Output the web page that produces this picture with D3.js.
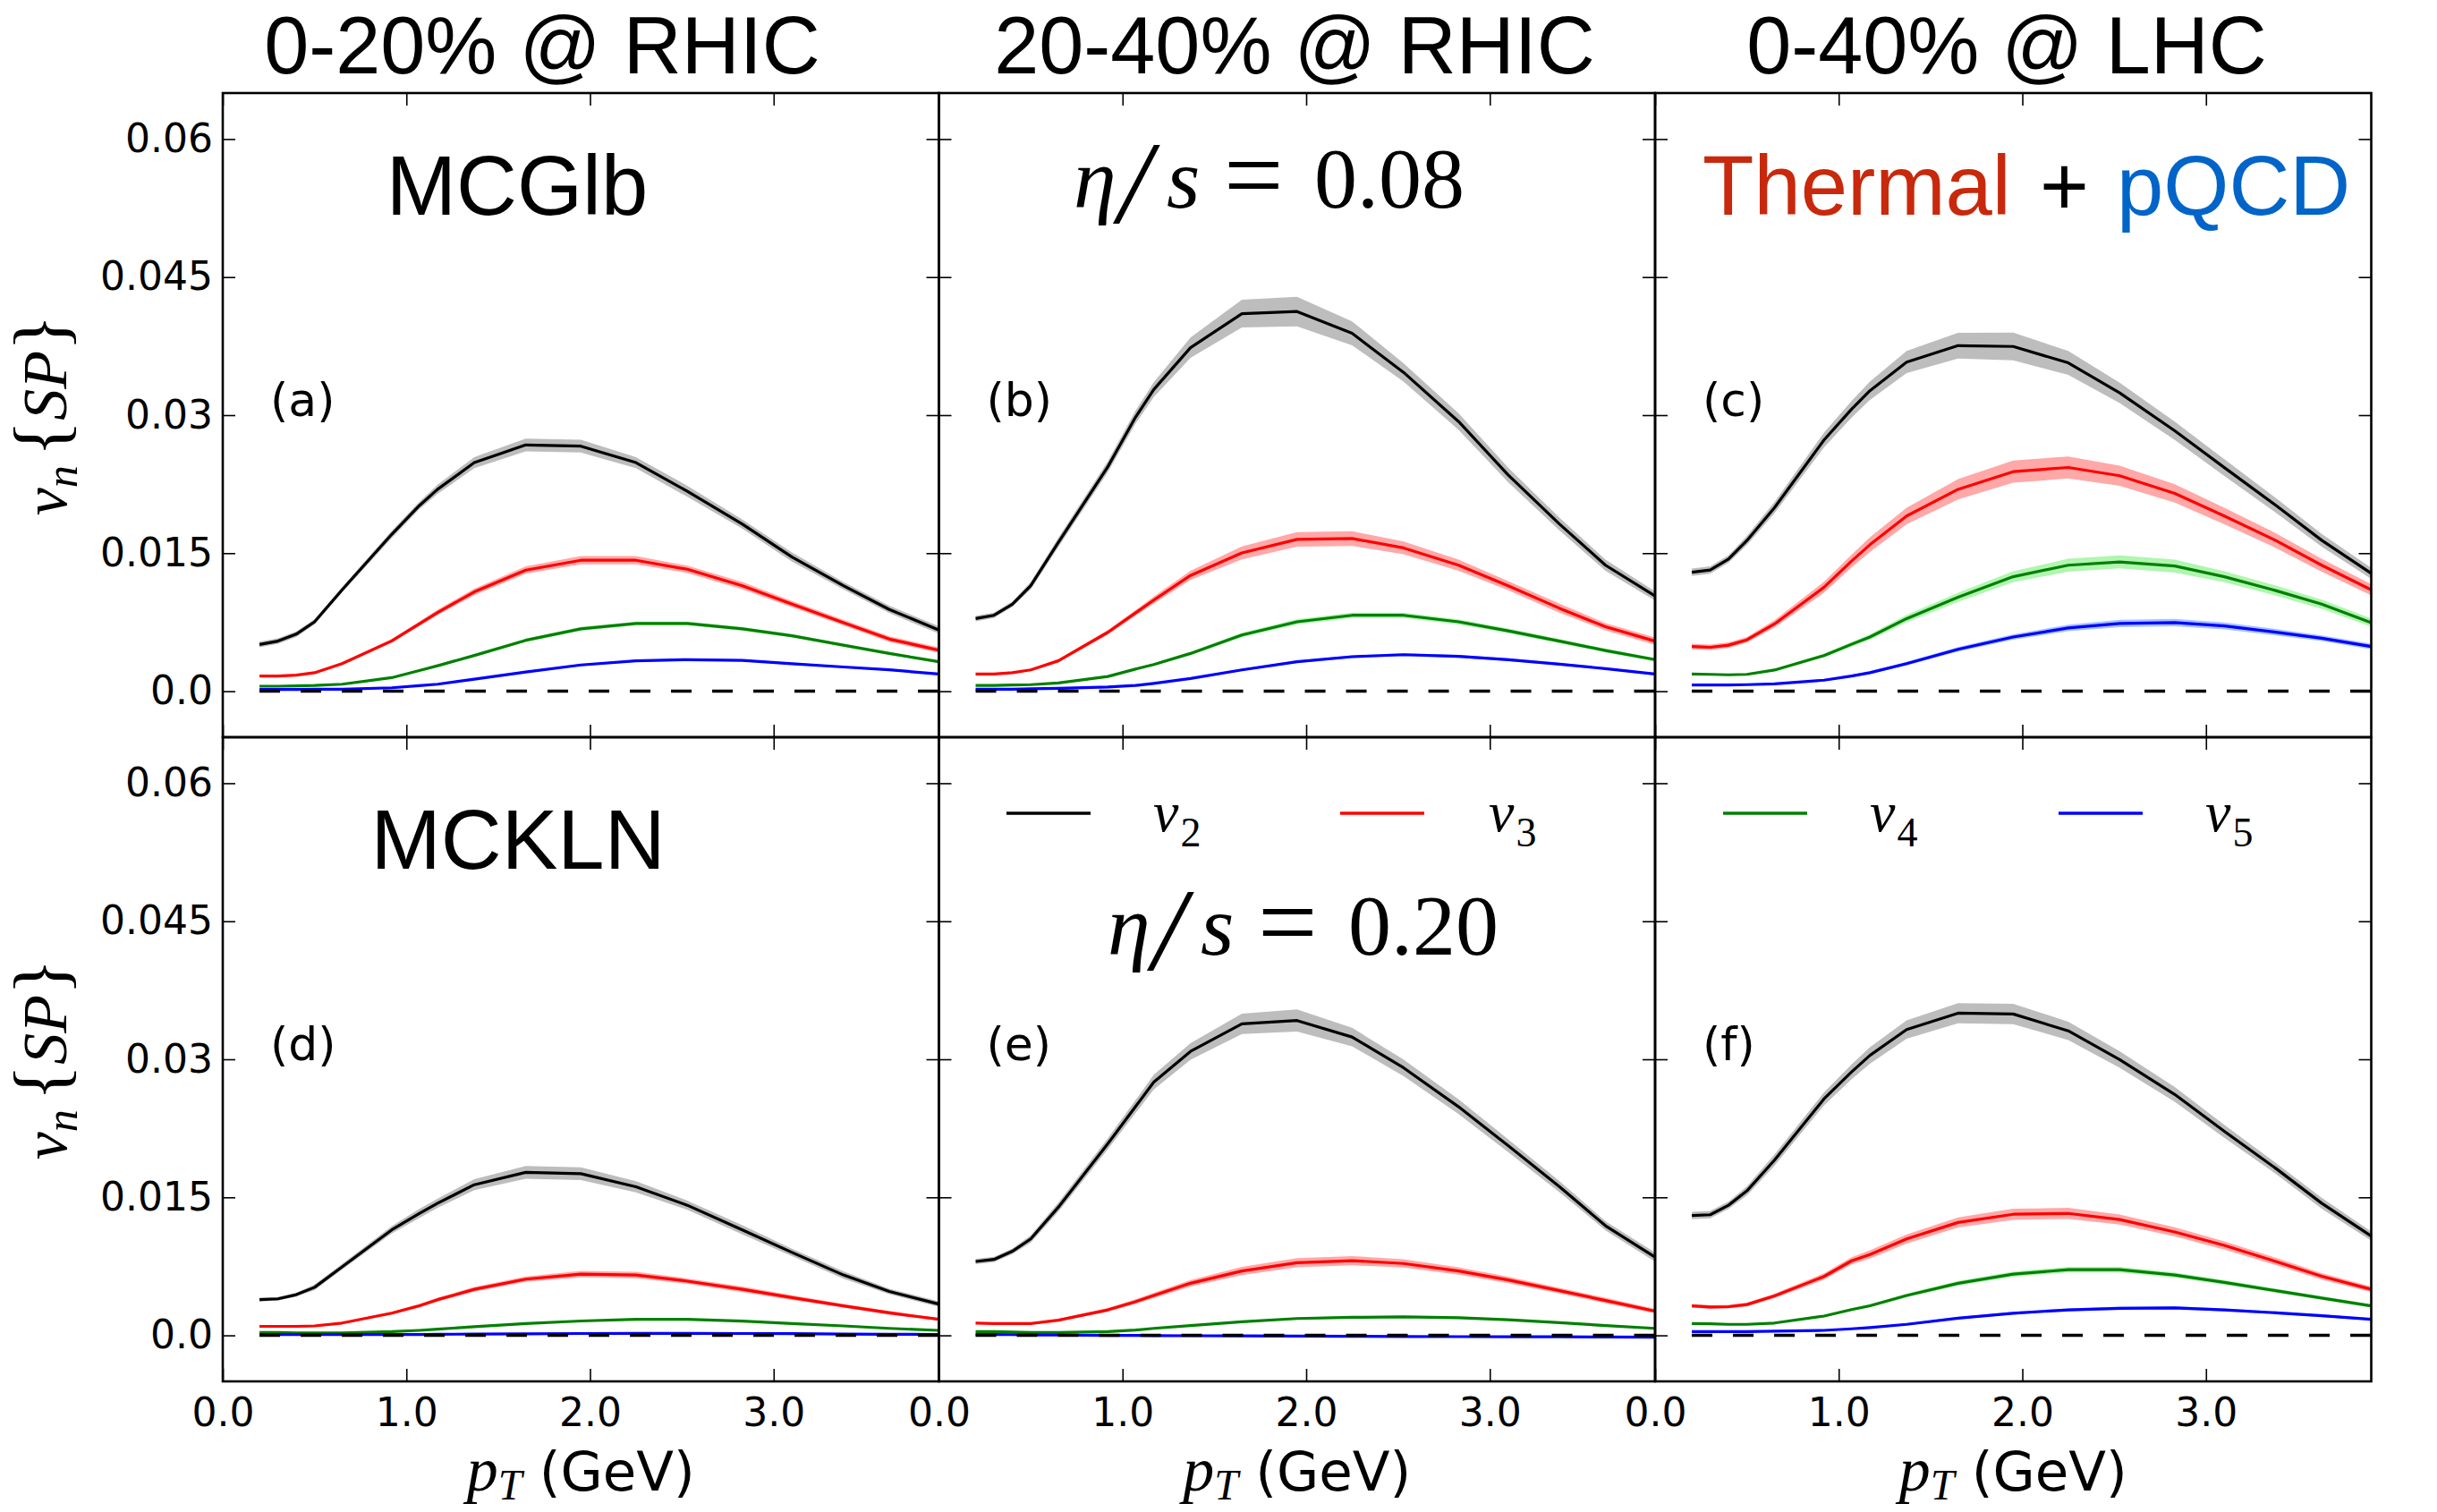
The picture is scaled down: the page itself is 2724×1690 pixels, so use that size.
<!DOCTYPE html>
<html>
<head>
<meta charset="utf-8">
<script src="https://cdn.jsdelivr.net/npm/d3@7"></script>
<style>
  html, body { margin: 0; padding: 0; background: #fff; }
  svg { display: block; }
</style>
</head>
<body>
<svg id="chart" width="2724" height="1690"></svg>
<script>
// Transverse momentum grid (GeV)
const pT = [0.2, 0.3, 0.4, 0.5, 0.65, 0.92, 1.07, 1.17, 1.37, 1.65, 1.95, 2.25, 2.53, 2.83, 3.1, 3.38, 3.63, 3.9];

// Column titles, tick values and tick labels
const columnTitles = ["0-20% @ RHIC", "20-40% @ RHIC", "0-40% @ LHC"];
const panelLabels = ["(a)", "(b)", "(c)", "(d)", "(e)", "(f)"];
const yTicks = [0.0, 0.015, 0.03, 0.045, 0.06];
const yTickLabels = ["0.0", "0.015", "0.03", "0.045", "0.06"];
const xTicks = [0, 1, 2, 3];
const xTickLabels = ["0.0", "1.0", "2.0", "3.0"];
const harmonics = ["2", "3", "4", "5"];

// (a) MCGlb, eta/s = 0.08, 0-20% RHIC
const v2a = [0.00508,0.00544,0.0062,0.00754,0.01102,0.01704,0.02016,0.02194,0.02484,0.02676,0.02663,0.02484,0.02172,0.01815,0.01458,0.01146,0.00888,0.00665];
const v3a = [0.00165,0.00165,0.00174,0.00201,0.00300,0.00546,0.00732,0.00856,0.01079,0.01316,0.01423,0.01423,0.01325,0.01146,0.00946,0.00745,0.00566,0.00446];
const v4a = [0.00054,0.00054,0.00058,0.00062,0.00076,0.00147,0.00225,0.00277,0.00388,0.00553,0.00678,0.00736,0.00736,0.00678,0.00602,0.0050,0.0041,0.00321];
const v5a = [0.00018,0.00018,0.00018,0.00022,0.00022,0.00037,0.0006,0.00076,0.0013,0.00209,0.00285,0.0033,0.00343,0.00335,0.00299,0.00263,0.00232,0.00187];
const e2a = [0.0003,0.0003,0.0003,0.0003,0.0003,0.0004,0.0004,0.0005,0.0006,0.0007,0.0007,0.0006,0.0006,0.0005,0.0005,0.0004,0.0004,0.0004];
const e3a = [0.0001,0.0001,0.0001,0.0001,0.00015,0.0002,0.00025,0.0003,0.00035,0.0004,0.00045,0.00045,0.0004,0.0004,0.00035,0.0003,0.0003,0.0003];
const e4a = [0.00005,0.00005,0.00005,0.00005,0.00006,0.00008,0.0001,0.00012,0.00015,0.00018,0.0002,0.0002,0.0002,0.0002,0.00018,0.00016,0.00015,0.00014];
const e5a = [0.00004,0.00004,0.00004,0.00004,0.00004,0.00005,0.00006,0.00007,0.00008,0.0001,0.00011,0.00012,0.00012,0.00012,0.00011,0.0001,0.0001,0.0001];

// (b) MCGlb, eta/s = 0.08, 20-40% RHIC
const v2b = [0.00789,0.00825,0.00946,0.01146,0.01615,0.0244,0.02975,0.03278,0.03733,0.04103,0.04126,0.03889,0.03465,0.0293,0.0235,0.01815,0.01369,0.01035];
const v3b = [0.00187,0.00187,0.00201,0.00232,0.0033,0.0064,0.0085,0.0099,0.01258,0.01503,0.0165,0.01659,0.01557,0.01369,0.01146,0.00901,0.007,0.00544];
const v4b = [0.00062,0.00062,0.00067,0.00071,0.00089,0.0016,0.0024,0.0029,0.0041,0.00611,0.00754,0.00825,0.00825,0.00754,0.00656,0.00544,0.00442,0.00343];
const v5b = [0.00022,0.00022,0.00022,0.00027,0.00031,0.00045,0.00062,0.00085,0.00138,0.00232,0.00321,0.00375,0.00397,0.00379,0.00343,0.00294,0.00245,0.00187];
const e2b = [0.0003,0.0003,0.0003,0.0004,0.0005,0.0006,0.0007,0.0008,0.0011,0.0015,0.0016,0.0013,0.001,0.0009,0.0008,0.0007,0.0006,0.0005];
const e3b = [0.0001,0.0001,0.0001,0.0001,0.00015,0.00025,0.0003,0.0004,0.0005,0.0007,0.0008,0.0008,0.0007,0.0006,0.0005,0.0005,0.0004,0.0004];
const e4b = [0.00005,0.00005,0.00005,0.00005,0.00006,0.00008,0.0001,0.00013,0.00018,0.00024,0.0003,0.0003,0.0003,0.00028,0.00025,0.00022,0.0002,0.00018];
const e5b = [0.00004,0.00004,0.00004,0.00004,0.00004,0.00005,0.00006,0.00007,0.00009,0.00011,0.00013,0.00015,0.00015,0.00015,0.00014,0.00013,0.00012,0.00011];

// (c) MCGlb, eta/s = 0.08, 0-40% LHC, thermal + pQCD
const v2c = [0.01293,0.01316,0.01436,0.01637,0.01994,0.0273,0.03064,0.03265,0.03577,0.03755,0.03746,0.03568,0.03242,0.0283,0.0243,0.0202,0.0164,0.0128];
const v3c = [0.00486,0.00477,0.005,0.00558,0.0073,0.0113,0.01414,0.01592,0.01904,0.02194,0.02386,0.02431,0.02341,0.0215,0.01904,0.01637,0.01369,0.01102];
const v4c = [0.00187,0.00183,0.00178,0.00183,0.0023,0.00388,0.0051,0.00589,0.00789,0.01021,0.01244,0.01369,0.01405,0.0136,0.01244,0.01093,0.00946,0.00745];
const v5c = [0.00067,0.00067,0.00067,0.00071,0.0008,0.0012,0.00165,0.00201,0.00299,0.00455,0.00589,0.00687,0.00736,0.00745,0.00709,0.00642,0.00575,0.00486];
const e2c = [0.0004,0.0004,0.0004,0.0005,0.0006,0.0008,0.0009,0.001,0.0012,0.0014,0.0015,0.0013,0.0011,0.001,0.0009,0.0008,0.0007,0.0006];
const e3c = [0.0003,0.0003,0.0003,0.0003,0.0004,0.0006,0.0007,0.0008,0.0009,0.0011,0.0012,0.0012,0.0011,0.001,0.0009,0.0008,0.0007,0.0006];
const e4c = [0.0001,0.0001,0.0001,0.0001,0.00013,0.0002,0.00025,0.0003,0.0004,0.0005,0.0006,0.0007,0.0007,0.0007,0.0006,0.00055,0.0005,0.00045];
const e5c = [0.00005,0.00005,0.00005,0.00005,0.00006,0.0001,0.00012,0.00015,0.0002,0.00025,0.0003,0.00035,0.0004,0.0004,0.00038,0.00035,0.0003,0.0003];

// (d) MCKLN, eta/s = 0.20, 0-20% RHIC
const v2d = [0.00388,0.00397,0.00442,0.00522,0.00745,0.01146,0.01325,0.01436,0.01637,0.01771,0.01757,0.01615,0.01414,0.01146,0.00901,0.00656,0.00477,0.0034];
const v3d = [0.00098,0.00098,0.00098,0.00103,0.00134,0.00241,0.00321,0.00388,0.005,0.00611,0.00665,0.00656,0.00589,0.005,0.0041,0.00321,0.00245,0.00174];
const v4d = [0.00031,0.00031,0.00027,0.00027,0.00027,0.0004,0.00054,0.00067,0.00094,0.00129,0.00156,0.00174,0.00174,0.00156,0.00129,0.00103,0.00076,0.00054];
const v5d = [0.0001,0.0001,0.0001,0.0001,0.0001,0.0001,0.0001,0.00012,0.00014,0.00017,0.0002,0.00022,0.00022,0.0002,0.00018,0.00015,0.00012,0.0001];
const e2d = [0.0002,0.0002,0.0002,0.0003,0.0003,0.0004,0.0005,0.0005,0.0006,0.0007,0.0007,0.0006,0.0005,0.0005,0.0004,0.0004,0.0003,0.0003];
const e3d = [0.0001,0.0001,0.0001,0.0001,0.0001,0.00015,0.0002,0.0002,0.00025,0.0003,0.00035,0.00035,0.0003,0.0003,0.00025,0.0002,0.0002,0.00015];
const e4d = [0.00004,0.00004,0.00004,0.00004,0.00004,0.00004,0.00005,0.00005,0.00006,0.00007,0.00008,0.00008,0.00008,0.00008,0.00007,0.00006,0.00006,0.00005];
const e5d = [0.00003,0.00003,0.00003,0.00003,0.00003,0.00003,0.00003,0.00003,0.00003,0.00003,0.00003,0.00003,0.00003,0.00003,0.00003,0.00003,0.00003,0.00003];

// (e) MCKLN, eta/s = 0.20, 20-40% RHIC
const v2e = [0.00803,0.00825,0.00914,0.01048,0.01392,0.02083,0.02484,0.02752,0.03086,0.03385,0.03421,0.03242,0.02908,0.02484,0.02061,0.01615,0.01191,0.0085];
const v3e = [0.00134,0.00129,0.00129,0.00129,0.00165,0.00277,0.00366,0.00433,0.00566,0.007,0.00789,0.00812,0.00781,0.007,0.00602,0.00486,0.00379,0.00263];
const v4e = [0.0004,0.0004,0.00036,0.00031,0.00031,0.0004,0.00058,0.00076,0.00107,0.00147,0.00183,0.00196,0.00201,0.00192,0.00169,0.00138,0.00107,0.00076];
const v5e = [0.0001,0.0001,0.00008,0.00005,0.00003,0.0,0.0,-0.00002,-0.00004,-0.00006,-0.00008,-0.0001,-0.00012,-0.00014,-0.00015,-0.00016,-0.00018,-0.0002];
const e2e = [0.0003,0.0003,0.0003,0.0004,0.0005,0.0006,0.0007,0.0008,0.0009,0.0011,0.0012,0.001,0.0009,0.0008,0.0007,0.0006,0.0005,0.0005];
const e3e = [0.0001,0.0001,0.0001,0.0001,0.00012,0.0002,0.00025,0.0003,0.00035,0.00045,0.0005,0.0005,0.00045,0.0004,0.00035,0.0003,0.0003,0.00025];
const e4e = [0.00004,0.00004,0.00004,0.00004,0.00004,0.00005,0.00006,0.00007,0.00008,0.0001,0.00011,0.00012,0.00012,0.00012,0.00011,0.0001,0.00009,0.00008];
const e5e = [0.00003,0.00003,0.00003,0.00003,0.00003,0.00003,0.00003,0.00003,0.00003,0.00003,0.00003,0.00003,0.00003,0.00003,0.00003,0.00003,0.00003,0.00003];

// (f) MCKLN, eta/s = 0.20, 0-40% LHC, thermal + pQCD
const v2f = [0.01302,0.01311,0.01414,0.0157,0.01904,0.0257,0.02863,0.03042,0.03323,0.03501,0.03492,0.03309,0.02997,0.02618,0.02217,0.01815,0.01436,0.01079];
const v3f = [0.00321,0.00308,0.00312,0.00335,0.00428,0.0064,0.0081,0.00879,0.01048,0.01227,0.01316,0.01325,0.01258,0.01124,0.00977,0.00803,0.00642,0.005];
const v4f = [0.00129,0.00125,0.0012,0.0012,0.00134,0.0021,0.0028,0.00321,0.00433,0.00566,0.00665,0.00714,0.00714,0.00656,0.00575,0.00486,0.00406,0.00321];
const v5f = [0.0004,0.0004,0.0004,0.0004,0.00045,0.00054,0.00071,0.00085,0.0012,0.00187,0.00241,0.00277,0.00294,0.00299,0.00277,0.00245,0.00214,0.00174];
const e2f = [0.0004,0.0004,0.0004,0.0005,0.0006,0.0007,0.0008,0.0009,0.001,0.0011,0.0011,0.001,0.0009,0.0008,0.0007,0.0006,0.0006,0.0005];
const e3f = [0.0002,0.0002,0.0002,0.0002,0.00025,0.00035,0.0004,0.00045,0.0005,0.00055,0.0006,0.0006,0.00055,0.0005,0.00045,0.0004,0.00035,0.0003];
const e4f = [0.0001,0.0001,0.0001,0.0001,0.0001,0.00012,0.00015,0.00017,0.0002,0.00025,0.00028,0.0003,0.0003,0.00028,0.00025,0.00022,0.0002,0.00018];
const e5f = [0.00005,0.00005,0.00005,0.00005,0.00005,0.00006,0.00007,0.00008,0.0001,0.00012,0.00014,0.00016,0.00017,0.00017,0.00016,0.00015,0.00014,0.00012];

// ---- layout & style ----
const svg = d3.select("#chart");
svg.append("rect").attr("width", 2724).attr("height", 1690).attr("fill", "#fff");

const left0 = 249, top0 = 104, pw = 800.5, ph = 720;
const x = d3.scaleLinear().domain([0, 3.9]).range([0, pw]);
const y = d3.scaleLinear().domain([-0.005, 0.065]).range([ph, 0]);

const lineColors = ["#000000", "#ff0000", "#008000", "#0000ff"];
const bandColors = ["#bdbdbd", "#ffa8a8", "#b0f5b0", "#a6c2ff"];
const sans = "'DejaVu Sans', sans-serif";
const helv = "'Liberation Sans', Arial, sans-serif";
const serif = "'Liberation Serif', 'Times New Roman', serif";

const panels = [
  { col: 0, row: 0, v: [v2a, v3a, v4a, v5a], e: [e2a, e3a, e4a, e5a] },
  { col: 1, row: 0, v: [v2b, v3b, v4b, v5b], e: [e2b, e3b, e4b, e5b] },
  { col: 2, row: 0, v: [v2c, v3c, v4c, v5c], e: [e2c, e3c, e4c, e5c] },
  { col: 0, row: 1, v: [v2d, v3d, v4d, v5d], e: [e2d, e3d, e4d, e5d] },
  { col: 1, row: 1, v: [v2e, v3e, v4e, v5e], e: [e2e, e3e, e4e, e5e] },
  { col: 2, row: 1, v: [v2f, v3f, v4f, v5f], e: [e2f, e3f, e4f, e5f] }
];

const band = d3.area().x(d => x(d.t)).y0(d => y(d.v - d.e)).y1(d => y(d.v + d.e));
const line = d3.line().x(d => x(d.t)).y(d => y(d.v));

function styleAxis(g) {
  g.select(".domain").remove();
  g.selectAll(".tick line").attr("stroke", "#000").attr("stroke-width", 1.6);
  g.attr("font-family", sans).attr("font-size", 44);
  g.selectAll(".tick text").attr("fill", "#000");
}

panels.forEach((p, idx) => {
  const ox = left0 + p.col * pw, oy = top0 + p.row * ph;
  const g = svg.append("g").attr("transform", `translate(${ox},${oy})`);

  // uncertainty bands and central curves
  p.v.forEach((vals, k) => {
    const pts = pT.map((t, i) => ({ t, v: vals[i], e: p.e[k][i] }));
    g.append("path").datum(pts).attr("d", band).attr("fill", bandColors[k]);
    g.append("path").datum(pts).attr("d", line)
      .attr("fill", "none").attr("stroke", lineColors[k]).attr("stroke-width", 3.2)
      .attr("stroke-linejoin", "round");
  });

  // zero reference line
  g.append("line")
    .attr("x1", x(0.2)).attr("x2", x(4.0)).attr("y1", y(0)).attr("y2", y(0))
    .attr("stroke", "#000").attr("stroke-width", 3.5).attr("stroke-dasharray", "23,23");

  // inward ticks on all four sides
  g.append("g").call(d3.axisLeft(y).tickValues(yTicks).tickSize(-14).tickPadding(11)
      .tickFormat((d, i) => p.col === 0 ? yTickLabels[i] : ""))
    .call(styleAxis);
  g.append("g").attr("transform", `translate(${pw},0)`)
    .call(d3.axisRight(y).tickValues(yTicks).tickSize(-14).tickFormat(""))
    .call(styleAxis);
  g.append("g").attr("transform", `translate(0,${ph})`)
    .call(d3.axisBottom(x).tickValues(xTicks).tickSize(-14).tickPadding(19)
      .tickFormat((d, i) => p.row === 1 ? xTickLabels[i] : ""))
    .call(styleAxis);
  g.append("g")
    .call(d3.axisTop(x).tickValues(xTicks).tickSize(-14).tickFormat(""))
    .call(styleAxis);

  // frame
  g.append("rect").attr("width", pw).attr("height", ph)
    .attr("fill", "none").attr("stroke", "#000").attr("stroke-width", 2.6);

  // panel tag
  g.append("text").attr("x", 53).attr("y", 361)
    .attr("font-family", sans).attr("font-size", 52).attr("fill", "#000")
    .text(panelLabels[idx]);
});

// column titles
const titleCenters = [606, 1447, 2243];
columnTitles.forEach((t, i) => {
  svg.append("text").attr("x", titleCenters[i]).attr("y", 82)
    .attr("text-anchor", "middle").attr("font-family", helv).attr("font-size", 90)
    .attr("fill", "#000").text(t);
});

// model names
svg.append("text").attr("x", 578).attr("y", 240).attr("text-anchor", "middle")
  .attr("font-family", helv).attr("font-size", 94).text("MCGlb");
svg.append("text").attr("x", 579).attr("y", 971).attr("text-anchor", "middle")
  .attr("font-family", helv).attr("font-size", 94).text("MCKLN");

// Thermal + pQCD
const tp = svg.append("text").attr("y", 240).attr("font-family", helv).attr("font-size", 94);
tp.append("tspan").attr("x", 1903).attr("fill", "#c8280c").text("Thermal");
tp.append("tspan").attr("x", 2280).attr("fill", "#000").text("+");
tp.append("tspan").attr("x", 2366).attr("fill", "#0064c8").text("pQCD");

// eta/s labels, one text element with positioned pieces
function etaOverS(x0, base, value) {
  const t = svg.append("text").attr("y", base).attr("font-family", serif).attr("fill", "#000");
  t.append("tspan").attr("x", x0).attr("font-size", 96).attr("font-style", "italic").text("\u03b7");
  t.append("tspan").attr("x", x0 + 50).attr("dy", 17).attr("font-size", 132).attr("font-style", "italic").text("/");
  t.append("tspan").attr("x", x0 + 104).attr("dy", -17).attr("font-size", 96).attr("font-style", "italic").text("s");
  t.append("tspan").attr("x", x0 + 168).attr("dy", 4).attr("font-size", 118).text("=");
  t.append("tspan").attr("x", x0 + 269).attr("dy", -4).attr("font-size", 96).text(value);
}
etaOverS(1200, 232, "0.08");
etaOverS(1238, 1067, "0.20");

// legend
const legendItems = [
  { k: 0, x0: 1050 + 75, lx: 1050 + 239 },
  { k: 1, x0: 1050 + 448, lx: 1050 + 614 },
  { k: 2, x0: 1850 + 76, lx: 1850 + 240 },
  { k: 3, x0: 1850 + 451, lx: 1850 + 615 }
];
legendItems.forEach(it => {
  svg.append("line").attr("x1", it.x0).attr("x2", it.x0 + 94).attr("y1", 909).attr("y2", 909)
    .attr("stroke", lineColors[it.k]).attr("stroke-width", 3.4);
  const t = svg.append("text").attr("x", it.lx).attr("y", 929).attr("font-family", serif).attr("fill", "#000");
  t.append("tspan").attr("font-size", 64).attr("font-style", "italic").text("v");
  t.append("tspan").attr("font-size", 46).attr("dy", 17).attr("dx", 2).text(harmonics[it.k]);
});

// y-axis labels
[0, 1].forEach(r => {
  const cy = top0 + r * ph + ph / 2;
  const t = svg.append("text").attr("transform", `translate(74,${cy}) rotate(-90)`)
    .attr("text-anchor", "middle").attr("font-family", serif).attr("fill", "#000");
  t.append("tspan").attr("font-size", 70).attr("font-style", "italic").text("v");
  t.append("tspan").attr("font-size", 50).attr("font-style", "italic").attr("dy", 12).text("n");
  t.append("tspan").attr("font-size", 84).attr("dy", -12).attr("dx", 10).text("{");
  t.append("tspan").attr("font-size", 70).attr("font-style", "italic").text("SP");
  t.append("tspan").attr("font-size", 84).text("}");
});

// x-axis labels
[0, 1, 2].forEach(c => {
  const cx = left0 + c * pw + pw / 2;
  const t = svg.append("text").attr("x", cx).attr("y", 1666).attr("text-anchor", "middle").attr("fill", "#000");
  t.append("tspan").attr("font-family", serif).attr("font-size", 70).attr("font-style", "italic").text("p");
  t.append("tspan").attr("font-family", serif).attr("font-size", 48).attr("font-style", "italic").attr("dy", 10).text("T");
  t.append("tspan").attr("font-family", sans).attr("font-size", 61).attr("dy", -10).text("\u00a0(GeV)");
});
</script>
</body>
</html>
